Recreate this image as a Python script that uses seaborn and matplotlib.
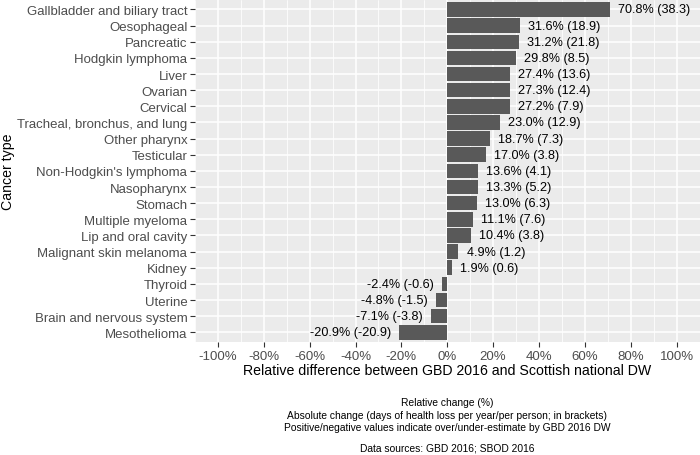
import pandas as pd
import seaborn as sns
import matplotlib.pyplot as plt
from matplotlib.ticker import MultipleLocator, FuncFormatter

cancers = [
    "Gallbladder and biliary tract", "Oesophageal", "Pancreatic", "Hodgkin lymphoma",
    "Liver", "Ovarian", "Cervical", "Tracheal, bronchus, and lung", "Other pharynx",
    "Testicular", "Non-Hodgkin's lymphoma", "Nasopharynx", "Stomach", "Multiple myeloma",
    "Lip and oral cavity", "Malignant skin melanoma", "Kidney", "Thyroid", "Uterine",
    "Brain and nervous system", "Mesothelioma",
]
rel_change = [70.8, 31.6, 31.2, 29.8, 27.4, 27.3, 27.2, 23.0, 18.7, 17.0, 13.6,
              13.3, 13.0, 11.1, 10.4, 4.9, 1.9, -2.4, -4.8, -7.1, -20.9]
abs_change = [38.3, 18.9, 21.8, 8.5, 13.6, 12.4, 7.9, 12.9, 7.3, 3.8, 4.1,
              5.2, 6.3, 7.6, 3.8, 1.2, 0.6, -0.6, -1.5, -3.8, -20.9]
x_ticks = [-100, -80, -60, -40, -20, 0, 20, 40, 60, 80, 100]
caption_lines = [
    "Relative change (%)",
    "Absolute change (days of health loss per year/per person; in brackets)",
    "Positive/negative values indicate over/under-estimate by GBD 2016 DW",
    "Data sources: GBD 2016; SBOD 2016",
]

df = pd.DataFrame({"cancer": cancers, "rel": rel_change, "abs": abs_change})

sns.set_theme(style="darkgrid", rc={
    "axes.facecolor": "#EBEBEB",
    "grid.color": "white",
    "axes.edgecolor": "#EBEBEB",
})
plt.rcParams["font.family"] = ["Liberation Sans", "DejaVu Sans"]

fig = plt.figure(figsize=(7, 4.56), dpi=100)
ax = fig.add_axes([195 / 700, 1 - 343 / 456, 504.5 / 700, 342.2 / 456])

sns.barplot(data=df, x="rel", y="cancer", orient="h", color="#595959",
            saturation=1, width=0.9, ax=ax)
for p in ax.patches:
    p.set_edgecolor("none")

# bar labels: relative change with absolute change in brackets
for i, row in df.iterrows():
    lab = f"{row['rel']:.1f}% ({row['abs']})"
    if row["rel"] >= 0:
        ax.text(row["rel"] + 3.5, i, lab, ha="left", va="center", fontsize=9.1, color="black")
    else:
        ax.text(row["rel"] - 3.5, i, lab, ha="right", va="center", fontsize=9.1, color="black")

ax.set_xlim(-110, 110)
ax.set_ylim(20.6, -0.6)
ax.set_xticks(x_ticks)
ax.xaxis.set_major_formatter(FuncFormatter(lambda v, _: f"{v:.0f}%"))
ax.xaxis.set_minor_locator(MultipleLocator(10))
ax.grid(which="major", color="white", lw=1.1)
ax.grid(which="minor", axis="x", color="white", lw=0.55)
ax.set_axisbelow(True)
for s in ax.spines.values():
    s.set_visible(False)

ax.tick_params(axis="both", which="major", length=3.5, width=0.8, color="#333333",
               labelcolor="#4D4D4D", labelsize=9.5, pad=2, left=True, bottom=True)
ax.tick_params(which="minor", length=0)

ax.set_xlabel("Relative difference between GBD 2016 and Scottish national DW",
              fontsize=10.2, color="black")
ax.set_ylabel("Cancer type", fontsize=10.2, color="black")
ax.xaxis.set_label_coords(0.5, -0.062)
ax.yaxis.set_label_coords(-0.357, 0.5)

cap_y = [403, 416, 428, 449]
for line, y in zip(caption_lines, cap_y):
    fig.text(447 / 700, 1 - y / 456, line, ha="center", va="center", fontsize=7.35, color="black")

fig.savefig("out.png", dpi=100)
